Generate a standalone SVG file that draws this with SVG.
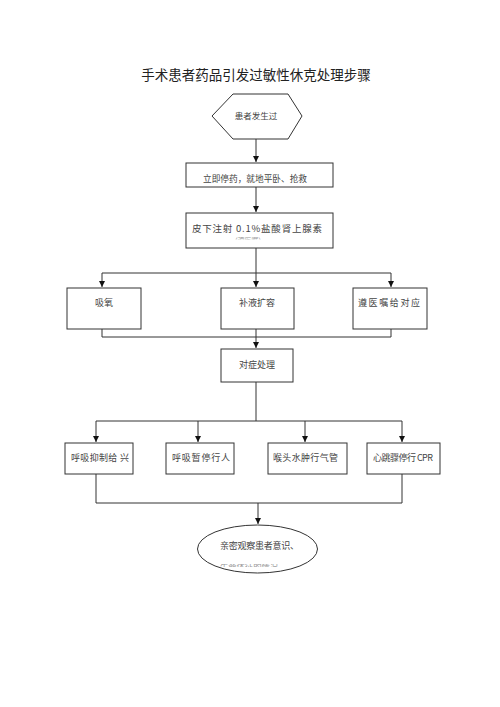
<svg xmlns="http://www.w3.org/2000/svg" width="500" height="707" viewBox="0 0 500 707">
<style>
.n{fill:#fff;stroke:#333;stroke-width:1}
.t{font-family:"Noto Sans CJK SC","Liberation Serif",serif;font-size:9px;fill:#444}
.h{fill:#999}
.c{fill:none;stroke:#333;stroke-width:1}
</style>
<defs>
<marker id="a" markerWidth="8" markerHeight="8" refX="6" refY="3" orient="auto" markerUnits="userSpaceOnUse">
<path d="M0,0 L6,3 L0,6 Z" fill="#111"/>
</marker>
<clipPath id="k1"><rect x="186" y="237" width="147" height="2.5"/></clipPath>
<clipPath id="k2"><rect x="200" y="564" width="120" height="3"/></clipPath>
</defs>
<rect width="500" height="707" fill="#fff"/>
<text x="256" y="80" text-anchor="middle" style="font-family:'Noto Sans CJK SC','Liberation Serif',serif;font-size:13.5px;fill:#222">手术患者药品引发过敏性休克处理步骤</text>
<g id="connectors">
<path class="c" d="M256,139 V162" marker-end="url(#a)"/>
<path class="c" d="M256,187 V212" marker-end="url(#a)"/>
<path class="c" d="M256,248 V273 M102,273 H391"/>
<path class="c" d="M102,273 V287" marker-end="url(#a)"/>
<path class="c" d="M256,273 V287" marker-end="url(#a)"/>
<path class="c" d="M391,273 V287" marker-end="url(#a)"/>
<path class="c" d="M102,329 V337 H391 M256,329 V337 M391,329 V337"/>
<path class="c" d="M256,337 V348" marker-end="url(#a)"/>
<path class="c" d="M256,382 V421 M96,421 H402"/>
<path class="c" d="M96,421 V442" marker-end="url(#a)"/>
<path class="c" d="M198,421 V442" marker-end="url(#a)"/>
<path class="c" d="M305,421 V442" marker-end="url(#a)"/>
<path class="c" d="M402,421 V442" marker-end="url(#a)"/>
<path class="c" d="M96,474 V503 H402 V474"/>
<path class="c" d="M258,503 V524" marker-end="url(#a)"/>
</g>
<g id="n-start">
<polygon class="n" points="233,94 288,94 302,116 288,139 233,139 212,116"/>
<text class="t" x="256" y="119" text-anchor="middle" style="font-size:8.5px">患者发生过</text>
</g>
<g id="n-stop">
<rect class="n" x="186" y="163" width="147" height="24"/>
<text class="t" x="203" y="182" textLength="104" lengthAdjust="spacingAndGlyphs">立即停药，就地平卧、抢救</text>
</g>
<g id="n-adrenaline">
<rect class="n" x="186" y="213" width="147" height="35"/>
<text class="t" x="192" y="232" textLength="130" lengthAdjust="spacing" style="font-size:9.5px">皮下注射 0.1%盐酸肾上腺素</text>
<text class="t h" x="231" y="243" textLength="34" lengthAdjust="spacingAndGlyphs" clip-path="url(#k1)" style="font-size:7px">（遵医嘱）</text>
</g>
<g id="n-oxygen">
<rect class="n" x="67" y="288" width="74" height="41"/>
<text class="t" x="104" y="306" text-anchor="middle">吸氧</text>
</g>
<g id="n-fluid">
<rect class="n" x="221" y="288" width="73" height="41"/>
<text class="t" x="257" y="306" text-anchor="middle">补液扩容</text>
</g>
<g id="n-order">
<rect class="n" x="353" y="288" width="74" height="41"/>
<text class="t" x="358" y="306" textLength="62" lengthAdjust="spacing">遵医嘱给对应</text>
</g>
<g id="n-symptom">
<rect class="n" x="221" y="349" width="72" height="33"/>
<text class="t" x="257" y="368" text-anchor="middle">对症处理</text>
</g>
<g id="n-resp1">
<rect class="n" x="65" y="443" width="68" height="31"/>
<text class="t" x="71" y="461" textLength="58" lengthAdjust="spacing">呼吸抑制给 兴</text>
</g>
<g id="n-resp2">
<rect class="n" x="166" y="443" width="68" height="31"/>
<text class="t" x="172" y="461" textLength="58" lengthAdjust="spacing">呼吸暂停行人</text>
</g>
<g id="n-larynx">
<rect class="n" x="268" y="443" width="79" height="31"/>
<text class="t" x="273" y="461" textLength="65" lengthAdjust="spacing">喉头水肿行气管</text>
</g>
<g id="n-cpr">
<rect class="n" x="367" y="443" width="73" height="31"/>
<text class="t" x="373" y="461" textLength="60" lengthAdjust="spacing">心跳骤停行 CPR</text>
</g>
<g id="n-observe">
<ellipse class="n" cx="257.5" cy="549" rx="60" ry="24"/>
<text class="t" x="220" y="549" textLength="79" lengthAdjust="spacing">亲密观察患者意识、</text>
<text class="t h" x="220" y="569" textLength="58" lengthAdjust="spacingAndGlyphs" clip-path="url(#k2)" style="font-size:7px">生命体征的情况</text>
</g>
</svg>
